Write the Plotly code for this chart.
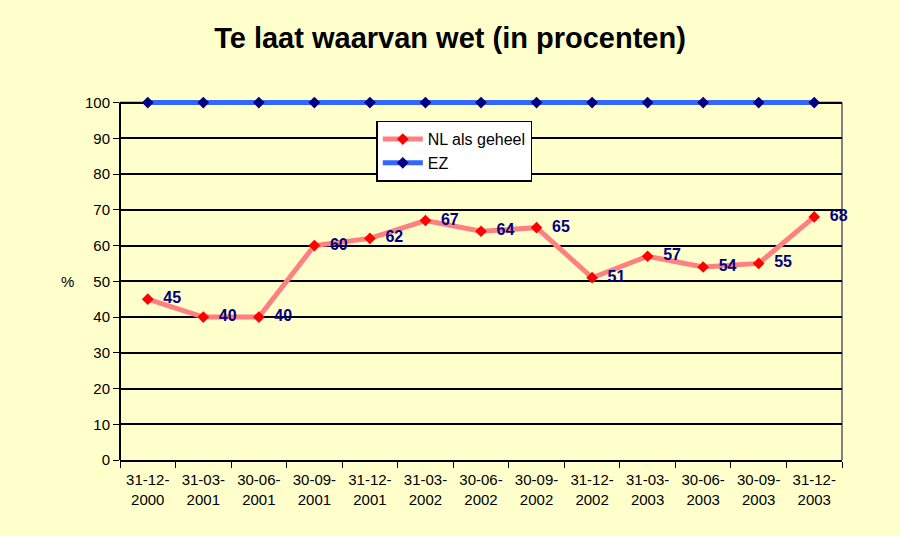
import plotly.graph_objects as go

datums = ["31-12-<br>2000", "31-03-<br>2001", "30-06-<br>2001", "30-09-<br>2001",
          "31-12-<br>2001", "31-03-<br>2002", "30-06-<br>2002", "30-09-<br>2002",
          "31-12-<br>2002", "31-03-<br>2003", "30-06-<br>2003", "30-09-<br>2003",
          "31-12-<br>2003"]
nl_geheel = [45, 40, 40, 60, 62, 67, 64, 65, 51, 57, 54, 55, 68]
ez = [100] * 13

bg = "#FFFFCC"
nbsp = "\u00a0"

fig = go.Figure()
fig.add_trace(go.Scatter(
    x=datums, y=nl_geheel, name="NL als geheel",
    mode="lines+markers+text",
    line=dict(color="#FF8080", width=5),
    marker=dict(symbol="diamond", size=9, color="#FF0000"),
    text=[nbsp * 2 + str(v) for v in nl_geheel], textposition="middle right",
    textfont=dict(family="Liberation Sans, Arial", size=16, color="#000080", weight="bold"),
    cliponaxis=False,
))
fig.add_trace(go.Scatter(
    x=datums, y=ez, name="EZ",
    mode="lines+markers",
    line=dict(color="#3366FF", width=5),
    marker=dict(symbol="diamond", size=9, color="#000080"),
    cliponaxis=False,
))

fig.update_layout(
    width=900, height=536,
    paper_bgcolor=bg, plot_bgcolor=bg,
    margin=dict(l=120, r=58, t=99, b=76),
    font=dict(family="Liberation Sans, Arial", size=15, color="black"),
    title=dict(text="<b>Te laat waarvan wet (in procenten)</b>", x=0.5, xanchor="center",
               y=0.93, yanchor="middle",
               font=dict(family="Liberation Sans, Arial", size=29, color="black")),
    showlegend=True,
    legend=dict(x=0.355, y=0.94, xanchor="left", yanchor="top",
                bgcolor="white", bordercolor="black", borderwidth=1.5,
                font=dict(size=16), tracegroupgap=0, itemwidth=40),
    xaxis=dict(type="category", tickson="boundaries", ticks="outside", ticklen=6,
               tickcolor="black", showline=True, linecolor="black", linewidth=2,
               showgrid=False, mirror=False, tickfont=dict(size=15),
               ticklabelstandoff=5, range=[-0.5, 12.5]),
    yaxis=dict(range=[0, 101], tickvals=list(range(0, 101, 10)), ticks="outside",
               ticklen=6, tickcolor="black",
               showline=False,
               showgrid=True, gridcolor="black", gridwidth=1.5,
               zeroline=False, tickfont=dict(size=15)),
    annotations=[dict(text="%", x=-0.085, y=50, xref="paper", yref="y",
                      showarrow=False, font=dict(size=15))],
    shapes=[
        dict(type="line", xref="paper", yref="y", x0=1, x1=1, y0=0, y1=100,
             line=dict(color="gray", width=2), layer="below"),
        dict(type="line", xref="paper", yref="y", x0=0, x1=1, y0=100, y1=100,
             line=dict(color="gray", width=2), layer="below"),
        dict(type="line", xref="paper", yref="y", x0=0, x1=0, y0=0, y1=100,
             line=dict(color="black", width=2)),
    ],
)

fig.write_html("out.html", config={"displayModeBar": False},
               post_script="document.body.style.margin='0';")
